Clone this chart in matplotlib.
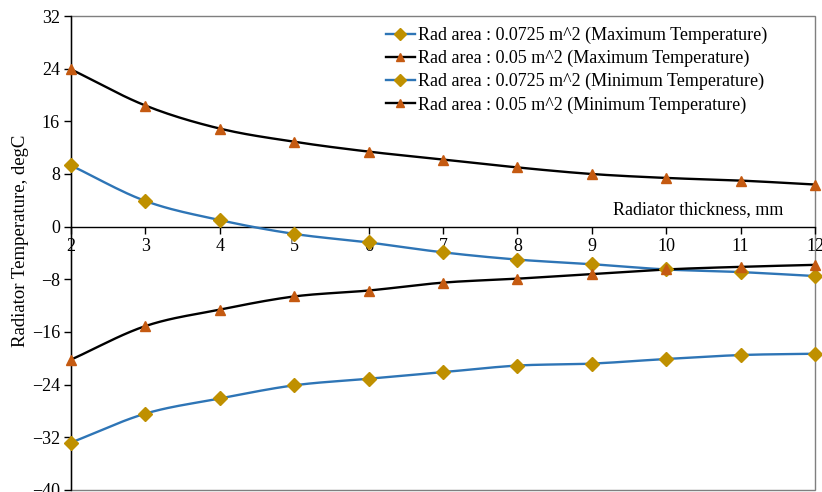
import numpy as np
import matplotlib.pyplot as plt
from matplotlib.lines import Line2D
from matplotlib.patches import Rectangle

plt.rcParams['font.family'] = ['Liberation Serif', 'DejaVu Serif']
plt.rcParams['axes.unicode_minus'] = True

# radiator thickness (mm)
thickness = [2, 3, 4, 5, 6, 7, 8, 9, 10, 11, 12]

# radiator temperature (degC)
max_a0725 = [9.3, 3.9, 1.0, -1.1, -2.4, -3.9, -5.0, -5.7, -6.5, -6.9, -7.5]
max_a05 = [23.9, 18.4, 14.9, 12.9, 11.4, 10.2, 9.0, 8.0, 7.4, 7.0, 6.4]
min_a0725 = [-32.8, -28.4, -26.1, -24.1, -23.1, -22.1, -21.1, -20.8, -20.1, -19.5, -19.3]
min_a05 = [-20.2, -15.1, -12.6, -10.6, -9.7, -8.5, -7.9, -7.2, -6.5, -6.1, -5.8]

labels = ['Rad area : 0.0725 m^2 (Maximum Temperature)',
          'Rad area : 0.05 m^2 (Maximum Temperature)',
          'Rad area : 0.0725 m^2 (Minimum Temperature)',
          'Rad area : 0.05 m^2 (Minimum Temperature)']

BLUE = '#2E75B6'
GOLD = '#BF9000'
ORANGE = '#C55A11'


def smooth(x, y, n=20):
    # Catmull-Rom style smoothing, like a spreadsheet "smoothed line"
    x = np.asarray(x, float)
    y = np.asarray(y, float)
    px = np.concatenate([[2 * x[0] - x[1]], x, [2 * x[-1] - x[-2]]])
    py = np.concatenate([[2 * y[0] - y[1]], y, [2 * y[-1] - y[-2]]])
    xs, ys = [], []
    t = np.linspace(0, 1, n, endpoint=False)
    for i in range(1, len(px) - 2):
        for p, out in ((px, xs), (py, ys)):
            p0, p1, p2, p3 = p[i - 1], p[i], p[i + 1], p[i + 2]
            out.extend(0.5 * (2 * p1 + (-p0 + p2) * t
                              + (2 * p0 - 5 * p1 + 4 * p2 - p3) * t ** 2
                              + (-p0 + 3 * p1 - 3 * p2 + p3) * t ** 3))
    xs.append(x[-1])
    ys.append(y[-1])
    return xs, ys


fig = plt.figure(figsize=(8.22, 4.92), dpi=100)
ax = fig.add_axes([71 / 822, 2 / 492, 744 / 822, 474 / 492])

series = [(max_a0725, BLUE, GOLD, 'D'),
          (max_a05, 'black', ORANGE, '^'),
          (min_a0725, BLUE, GOLD, 'D'),
          (min_a05, 'black', ORANGE, '^')]

handles = []
for vals, lc, mc, mk in series:
    sx, sy = smooth(thickness, vals)
    ax.plot(sx, sy, color=lc, lw=1.7, zorder=3, clip_on=False)
    ax.plot(thickness, vals, ls='none', marker=mk, color=mc,
            markersize=7 if mk == 'D' else 7.5, zorder=4, clip_on=False)
    handles.append(Line2D([], [], color=lc, lw=1.7, marker=mk,
                          markerfacecolor=mc, markeredgecolor=mc, markersize=6))

ax.set_xlim(2, 12)
ax.set_ylim(-40, 32)
ax.set_xticks(thickness)
ax.set_yticks(np.arange(-40, 33, 8))

ax.spines['bottom'].set_position(('data', 0))
for s in ('top', 'right'):
    ax.spines[s].set_visible(False)
ax.spines['left'].set_linewidth(1.0)
ax.spines['bottom'].set_linewidth(1.0)
ax.add_patch(Rectangle((0, 0), 1, 1, transform=ax.transAxes, fill=False,
                       edgecolor='#7f7f7f', lw=1.0, clip_on=False, zorder=1))

ax.tick_params(axis='both', direction='out', length=5, width=1,
               labelsize=13, colors='black')
ax.tick_params(axis='x', pad=3)
ax.tick_params(axis='y', pad=3)

fig.text(21 / 822, 1 - 241 / 492, 'Radiator Temperature, degC', fontsize=13.5,
         rotation=90, ha='center', va='center')
ax.text(11.57, 2.6, 'Radiator thickness, mm', fontsize=13, ha='right', va='center')

leg = ax.legend(handles, labels, loc='upper left',
                bbox_to_anchor=((386 - 71) / 744, (490 - 27) / 474),
                borderaxespad=0, borderpad=0, fontsize=13, frameon=False,
                handlelength=1.6, handletextpad=0.15, labelspacing=0.32)

fig.savefig('out.png', dpi=100)
